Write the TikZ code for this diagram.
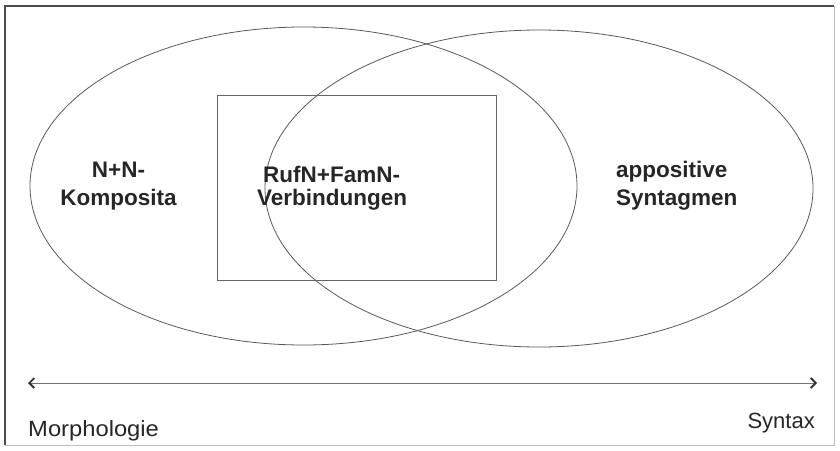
\documentclass[tikz,border=0pt]{standalone}
\usepackage{fontspec}
\setmainfont{Liberation Sans}
\usetikzlibrary{shapes.geometric,arrows.meta}
\tikzset{
  setshape/.style={draw=black!65, line width=0.8pt, ellipse, inner sep=0pt},
  boldtext/.style={font=\bfseries\fontsize{22.5}{28}\selectfont, text=black!85, inner sep=0pt},
  plaintext/.style={font=\fontsize{22}{26}\selectfont, text=black!85, inner sep=0pt},
}
\begin{document}
\begin{tikzpicture}[x=1pt,y=-1pt]
\useasboundingbox (0,0) rectangle (840,450);
% frame
\draw[black!25, line width=0.8pt] (5,6) rectangle (834,445);
\draw[black!70, line width=1.4pt] (5,445) -- (5,6) -- (834,6);
% sets
\node[setshape, minimum width=547pt, minimum height=318pt] (morph) at (303.5,186) {};
\node[setshape, minimum width=548pt, minimum height=317pt] (synt) at (539,188.5) {};
\node[draw=black!60, line width=1pt, minimum width=279pt, minimum height=185pt, inner sep=0pt] (box) at (356.5,187.5) {};
% labels
\node[boldtext, anchor=base, align=center] (lk1) at (118.5,177) {N+N-};
\node[boldtext, anchor=base, align=center] (lk2) at (118.5,205) {Komposita};
\node[boldtext, anchor=base west] (mv1) at (263,182) {RufN+FamN-};
\node[boldtext, anchor=base west] (mv2) at (257,205) {Verbindungen};
\node[boldtext, anchor=base west] (rs1) at (616,177) {appositive};
\node[boldtext, anchor=base west] (rs2) at (616,205) {Syntagmen};
% axis
\coordinate (al) at (28,383);
\coordinate (ar) at (817,383);
\draw[black!55, line width=1pt, {Straight Barb[length=5pt,width=10pt,line width=1.8pt,color=black!80]}-{Straight Barb[length=5pt,width=10pt,line width=1.8pt,color=black!80]}] (al) -- (ar);
\node[plaintext, xscale=1.08, anchor=base west] (mo) at (28,436) {Morphologie};
\node[plaintext, anchor=base east] (sy) at (815,428) {Syntax};
\end{tikzpicture}
\end{document}
